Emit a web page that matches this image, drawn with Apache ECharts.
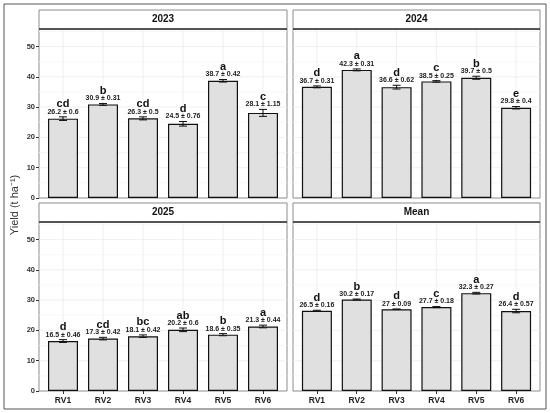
<!DOCTYPE html>
<html>

<head>
    <meta charset="UTF-8">
    <style type="text/css">
        body {
            margin: 0;
            background: #fff;
        }

        #chart {
            width: 550px;
            height: 413px;
        }
    </style>
</head>

<body>
    <div id="chart"></div>
    <script src="https://cdn.jsdelivr.net/npm/echarts@6/dist/echarts.min.js"></script>
    <script type="text/javascript">
        'use strict';
        var categories = ['RV1', 'RV2', 'RV3', 'RV4', 'RV5', 'RV6'];
        var panelTitles = ['2023', '2024', '2025', 'Mean'];
        var yTicks = [0, 10, 20, 30, 40, 50];

        var mean2023 = [26.2, 30.9, 26.3, 24.5, 38.7, 28.1];
        var se2023 = [0.6, 0.31, 0.5, 0.76, 0.42, 1.15];
        var letters2023 = ['cd', 'b', 'cd', 'd', 'a', 'c'];

        var mean2024 = [36.7, 42.3, 36.6, 38.5, 39.7, 29.8];
        var se2024 = [0.31, 0.31, 0.62, 0.25, 0.5, 0.4];
        var letters2024 = ['d', 'a', 'd', 'c', 'b', 'e'];

        var mean2025 = [16.5, 17.3, 18.1, 20.2, 18.6, 21.3];
        var se2025 = [0.46, 0.42, 0.42, 0.6, 0.35, 0.44];
        var letters2025 = ['d', 'cd', 'bc', 'ab', 'b', 'a'];

        var meanAll = [26.5, 30.2, 27, 27.7, 32.3, 26.4];
        var seAll = [0.16, 0.17, 0.09, 0.18, 0.27, 0.57];
        var lettersAll = ['d', 'b', 'd', 'c', 'a', 'd'];

        var panels = [
            { mean: mean2023, se: se2023, letters: letters2023 },
            { mean: mean2024, se: se2024, letters: letters2024 },
            { mean: mean2025, se: se2025, letters: letters2025 },
            { mean: meanAll, se: seAll, letters: lettersAll }
        ];

        // panel boxes (plot area, strip sits on top)
        var boxes = [
            { left: 39, top: 29, width: 248, height: 169 },
            { left: 293, top: 29, width: 247, height: 169 },
            { left: 39, top: 222, width: 248, height: 169 },
            { left: 293, top: 222, width: 247, height: 169 }
        ];
        var stripH = 19;
        var font = 'Liberation Sans, Arial, sans-serif';

        var chart = echarts.init(document.getElementById('chart'));

        var grids = [], xAxes = [], yAxes = [], series = [], graphics = [];

        boxes.forEach(function (b, i) {
            var bottomRow = i >= 2, leftCol = i % 2 === 0;
            grids.push({
                left: b.left, top: b.top, width: b.width, height: b.height,
                show: true, borderColor: '#8c8c8c', borderWidth: 1, backgroundColor: '#fff'
            });
            xAxes.push({
                type: 'value', gridIndex: i, min: 0.4, max: 6.6,
                axisLine: { show: false },
                axisTick: {
                    show: bottomRow, length: 3, lineStyle: { color: '#333' },
                    customValues: [1, 2, 3, 4, 5, 6]
                },
                axisLabel: {
                    show: bottomRow, margin: 5, fontFamily: font, fontSize: 8.5,
                    fontWeight: 'bold', color: '#222',
                    customValues: [1, 2, 3, 4, 5, 6],
                    formatter: function (v) { return categories[Math.round(v) - 1]; }
                },
                splitLine: { show: false }
            });
            yAxes.push({
                type: 'value', gridIndex: i, min: 0, max: 55.8,
                axisLine: { show: false },
                axisTick: {
                    show: leftCol, length: 3, lineStyle: { color: '#333' },
                    customValues: yTicks
                },
                axisLabel: {
                    show: leftCol, margin: 4, fontFamily: font, fontSize: 7.5,
                    fontWeight: 'bold', color: '#333', customValues: yTicks
                },
                splitLine: { show: false }
            });

            var p = panels[i];
            series.push({
                type: 'bar', xAxisIndex: i, yAxisIndex: i, barWidth: 30,
                data: p.mean.map(function (m, k) { return [k + 1, m]; }),
                itemStyle: { color: '#e0e0e0', borderColor: '#111', borderWidth: 1.2 },
                z: 3, silent: true
            });

            // faint grid lines drawn behind bars
            series.push({
                type: 'custom', xAxisIndex: i, yAxisIndex: i, z: 1, silent: true,
                data: [0],
                renderItem: function (params, api) {
                    var kids = [];
                    var x0 = api.coord([0.4, 0])[0], x1 = api.coord([6.6, 0])[0];
                    var yb = api.coord([1, 0])[1], yt = api.coord([1, 55.8])[1];
                    for (var v = 5; v < 55.8; v += 5) {
                        var y = api.coord([1, v])[1];
                        kids.push({
                            type: 'line', shape: { x1: x0, y1: y, x2: x1, y2: y },
                            style: { stroke: v % 10 === 0 ? '#ececec' : '#f5f5f5', lineWidth: 0.8 }
                        });
                    }
                    for (var c = 1; c <= 6; c++) {
                        var x = api.coord([c, 0])[0];
                        kids.push({
                            type: 'line', shape: { x1: x, y1: yb, x2: x, y2: yt },
                            style: { stroke: '#ececec', lineWidth: 0.8 }
                        });
                    }
                    return { type: 'group', children: kids };
                }
            });

            // error bars and labels
            series.push({
                type: 'custom', xAxisIndex: i, yAxisIndex: i, z: 5, silent: true,
                data: p.mean.map(function (m, k) { return [k + 1, m, p.se[k]]; }),
                renderItem: function (params, api) {
                    var x = api.value(0), m = api.value(1), s = api.value(2);
                    var top = api.coord([x, m + s]), bot = api.coord([x, m - s]);
                    var cx = top[0], cap = 4;
                    var ln = { stroke: '#111', lineWidth: 1 };
                    return {
                        type: 'group',
                        children: [
                            { type: 'line', shape: { x1: cx, y1: top[1], x2: cx, y2: bot[1] }, style: ln },
                            { type: 'line', shape: { x1: cx - cap, y1: top[1], x2: cx + cap, y2: top[1] }, style: ln },
                            { type: 'line', shape: { x1: cx - cap, y1: bot[1], x2: cx + cap, y2: bot[1] }, style: ln },
                            {
                                type: 'text', x: cx, y: top[1] - 5,
                                style: {
                                    text: m + ' \u00b1 ' + s, fontFamily: font, fontSize: 7,
                                    fontWeight: 'bold', fill: '#222', align: 'center', verticalAlign: 'middle'
                                }
                            },
                            {
                                type: 'text', x: cx, y: top[1] - 12.5,
                                style: {
                                    text: p.letters[params.dataIndex], fontFamily: font, fontSize: 11,
                                    fontWeight: 'bold', fill: '#111', align: 'center', verticalAlign: 'middle'
                                }
                            }
                        ]
                    };
                }
            });

            // facet strip
            graphics.push({
                type: 'rect', z: 10,
                shape: { x: b.left, y: b.top - stripH, width: b.width, height: stripH },
                style: { fill: '#fff', stroke: '#8c8c8c', lineWidth: 1 }
            });
            graphics.push({
                type: 'line', z: 11,
                shape: { x1: b.left, y1: b.top, x2: b.left + b.width, y2: b.top },
                style: { stroke: '#333', lineWidth: 1.5 }
            });
            graphics.push({
                type: 'text', z: 12, x: b.left + b.width / 2, y: b.top - stripH / 2,
                style: {
                    text: panelTitles[i], fontFamily: font, fontSize: 10, fontWeight: 'bold',
                    fill: '#111', align: 'center', verticalAlign: 'middle'
                }
            });
        });

        // y axis title
        graphics.push({
            type: 'text', z: 12, x: 15, y: 205, rotation: Math.PI / 2,
            style: {
                text: 'Yield (t ha\u207b\u00b9)', fontFamily: font, fontSize: 11,
                fill: '#333', align: 'center', verticalAlign: 'middle'
            }
        });
        // outer frame
        graphics.push({
            type: 'rect', z: 0,
            shape: { x: 4, y: 4, width: 542, height: 405 },
            style: { fill: 'none', stroke: '#555', lineWidth: 1 }
        });

        chart.setOption({
            animation: false,
            grid: grids,
            xAxis: xAxes,
            yAxis: yAxes,
            series: series,
            graphic: graphics
        });
    </script>
</body>

</html>
